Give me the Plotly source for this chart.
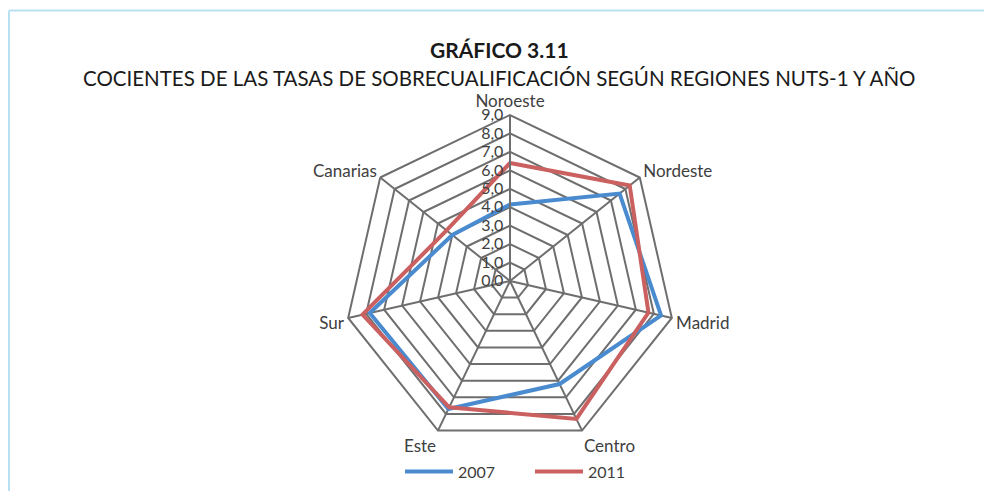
import plotly.graph_objects as go

categories = ["Noroeste", "Nordeste", "Madrid", "Centro", "Este", "Sur", "Canarias"]
values_2007 = [4.15, 7.6, 8.4, 6.2, 7.7, 7.8, 4.0]
values_2011 = [6.4, 8.3, 7.7, 8.3, 7.6, 8.2, 4.4]
tick_vals = [0, 1, 2, 3, 4, 5, 6, 7, 8, 9]

W, H = 984, 491
cx, cy, R = 510, 281, 166

fig = go.Figure()
fig.add_trace(go.Scatterpolar(
    r=values_2007 + values_2007[:1], theta=categories + categories[:1],
    mode="lines", name="2007", line=dict(color="#4A8BD0", width=4)))
fig.add_trace(go.Scatterpolar(
    r=values_2011 + values_2011[:1], theta=categories + categories[:1],
    mode="lines", name="2011", line=dict(color="#CB6060", width=4)))

fig.update_layout(
    width=W, height=H,
    margin=dict(l=0, r=0, t=0, b=0),
    paper_bgcolor="white",
    separators=",.",
    font=dict(family="Lato, 'Open Sans', sans-serif", color="#404040", size=16),
    polar=dict(
        domain=dict(x=[(cx - R) / W, (cx + R) / W], y=[(H - cy - R) / H, (H - cy + R) / H]),
        gridshape="linear",
        bgcolor="white",
        angularaxis=dict(direction="clockwise", rotation=90, categoryorder="array",
                         categoryarray=categories,
                         linecolor="#6E6E6E", linewidth=2, gridcolor="#6E6E6E", gridwidth=2,
                         showticklabels=True, ticks="",
                         tickfont=dict(size=17, color="#404040")),
        radialaxis=dict(range=[0, 9], tickvals=tick_vals, tickformat=".1f", angle=90,
                        tickangle=90, side="counterclockwise",
                        showline=True, linecolor="#6E6E6E", linewidth=2,
                        gridcolor="#6E6E6E", gridwidth=2, ticks="",
                        tickfont=dict(size=16, color="#404040")),
    ),
    legend=dict(orientation="h", x=400 / W, xanchor="left", y=0.005, yanchor="bottom",
                font=dict(size=16, color="#404040"), itemwidth=48,
                entrywidth=67, entrywidthmode="pixels"),
    showlegend=True,
    annotations=[
        dict(text="<b>GRÁFICO 3.11</b>", x=0.508, y=1 - 35 / H, xref="paper", yref="paper",
             showarrow=False, font=dict(size=21, color="#1a1a1a")),
        dict(text="COCIENTES DE LAS TASAS DE SOBRECUALIFICACIÓN SEGÚN REGIONES NUTS-1 Y AÑO",
             x=0.508, y=1 - 64 / H, xref="paper", yref="paper", showarrow=False,
             font=dict(size=20.5, color="#1a1a1a")),
    ],
    shapes=[
        dict(type="line", xref="paper", yref="paper", x0=9 / W, x1=1, y0=1 - 10.5 / H, y1=1 - 10.5 / H,
             line=dict(color="#B7E1F1", width=2)),
        dict(type="line", xref="paper", yref="paper", x0=9 / W, x1=9 / W, y0=0, y1=1 - 10.5 / H,
             line=dict(color="#B7E1F1", width=2)),
    ],
)

fig.write_html("out.html", config={"displayModeBar": False},
               post_script="document.body.style.margin='0';document.body.style.padding='0';")
